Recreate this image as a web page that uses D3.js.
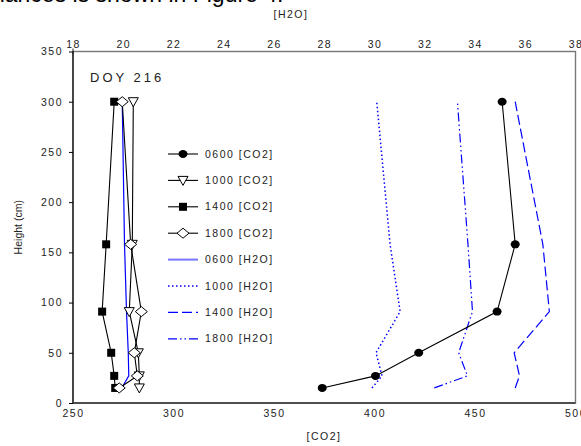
<!DOCTYPE html>
<html>
<head>
<meta charset="utf-8">
<script src="https://d3js.org/d3.v7.min.js"></script>
<style>
  body { margin: 0; background: #fff; }
  svg { display: block; font-family: "Liberation Sans", Arial, sans-serif; }
  .lab { letter-spacing: 1.5px; }
</style>
</head>
<body>
<script>
// heights (cm)
var heights = [15, 27, 50, 91, 158, 300];

// [CO2] profiles (bottom axis)
var co2_0600 = [374, 400.5, 422, 461, 470, 463.5];
var co2_1000 = [283, 283, 282.5, 278, 279.5, 280];
var co2_1400 = [271, 270.5, 269, 264.5, 266.5, 270.5];
var co2_1800 = [273, 282, 280.5, 284, 278.7, 274.5];

// [H2O] profiles (top axis)
var h2o_0600 = [19.94, 20.22, 20.2, 20.13, 20.05, 19.96];
var h2o_1000 = [29.9, 30.3, 30.06, 31.02, 30.62, 30.09];
var h2o_1400 = [35.6, 35.77, 35.56, 36.96, 36.7, 35.6];
var h2o_1800 = [32.38, 33.7, 33.35, 33.9, 33.72, 33.3];

var co2Ticks = [250, 300, 350, 400, 450, 500];
var h2oTicks = [18, 20, 22, 24, 26, 28, 30, 32, 34, 36, 38];
var yTicks = [0, 50, 100, 150, 200, 250, 300, 350];

var W = 581, H = 446;
var svg = d3.select("body").append("svg").attr("width", W).attr("height", H);

var x = d3.scaleLinear().domain([250, 500]).range([73, 575.5]);
var x2 = d3.scaleLinear().domain([18, 38]).range([73, 575.5]);
var y = d3.scaleLinear().domain([0, 350]).range([403, 51.5]);

// cropped document text at top
svg.append("text").attr("x", -8).attr("y", 2).attr("font-size", 23).attr("fill", "#000")
  .text("riances is shown in Figure 4.");

// frame
svg.append("rect").attr("x", x(250)).attr("y", y(350))
  .attr("width", x(500) - x(250)).attr("height", y(0) - y(350))
  .attr("fill", "none").attr("stroke", "#777").attr("stroke-width", 1.4);
svg.append("line").attr("x1", x(250)).attr("x2", x(250)).attr("y1", y(350)).attr("y2", y(0))
  .attr("stroke", "#222").attr("stroke-width", 1.4);
svg.append("line").attr("x1", x(250)).attr("x2", x(500)).attr("y1", y(0)).attr("y2", y(0))
  .attr("stroke", "#333").attr("stroke-width", 1.4);

function styleTicks(g) {
  g.select(".domain").remove();
  g.selectAll("text").attr("font-size", 10.5).attr("fill", "#222").attr("class", "lab")
    .attr("font-family", "Liberation Sans, Arial, sans-serif");
}

// left axis
var gy = svg.append("g").attr("transform", "translate(" + x(250) + ",0)")
  .call(d3.axisLeft(y).tickValues(yTicks).tickSize(4).tickPadding(6));
styleTicks(gy);

// bottom axis
var gx = svg.append("g").attr("transform", "translate(0," + y(0) + ")")
  .call(d3.axisBottom(x).tickValues(co2Ticks).tickSize(0).tickPadding(7));
styleTicks(gx);

// top axis
var gt = svg.append("g").attr("transform", "translate(0," + y(350) + ")")
  .call(d3.axisTop(x2).tickValues(h2oTicks).tickSize(0).tickPadding(4));
styleTicks(gt);
svg.append("line").attr("x1", x2(18)).attr("x2", x2(18)).attr("y1", y(350) - 3).attr("y2", y(350) + 3)
  .attr("stroke", "#222");

// axis titles
svg.append("text").attr("x", 291).attr("y", 18).attr("text-anchor", "middle")
  .attr("font-size", 10.5).attr("class", "lab").attr("fill", "#222").text("[H2O]");
svg.append("text").attr("x", 324).attr("y", 440).attr("text-anchor", "middle")
  .attr("font-size", 10.5).attr("class", "lab").attr("fill", "#222").text("[CO2]");
svg.append("text").attr("transform", "translate(22," + y(175) + ") rotate(-90)")
  .attr("text-anchor", "middle").attr("font-size", 10.5).attr("fill", "#222").text("Height (cm)");
svg.append("text").attr("x", 90).attr("y", 82).attr("font-size", 13)
  .attr("fill", "#222").style("letter-spacing", "3px").text("DOY 216");

// H2O lines
var h2oSeries = [
  { v: h2o_0600, dash: null, w: 1.2 },
  { v: h2o_1000, dash: "1.5,2.5", w: 1.5 },
  { v: h2o_1400, dash: "10,4", w: 1.2 },
  { v: h2o_1800, dash: "9,3,1.5,3,1.5,3", w: 1.2 }
];
h2oSeries.forEach(function (s) {
  var line = d3.line().x(function (d) { return x2(d[0]); }).y(function (d) { return y(d[1]); });
  svg.append("path").datum(d3.zip(s.v, heights)).attr("d", line)
    .attr("fill", "none").attr("stroke", "#0000ff").attr("stroke-width", s.w)
    .attr("stroke-dasharray", s.dash);
});

// CO2 lines with markers
var co2Series = [
  { v: co2_0600, m: "circle" },
  { v: co2_1000, m: "tri" },
  { v: co2_1400, m: "square" },
  { v: co2_1800, m: "diamond" }
];
function marker(g, type, cx, cy) {
  if (type === "circle") {
    g.append("ellipse").attr("cx", cx).attr("cy", cy).attr("rx", 4.5).attr("ry", 4)
      .attr("fill", "#000");
  } else if (type === "square") {
    g.append("rect").attr("x", cx - 4).attr("y", cy - 4).attr("width", 8).attr("height", 8)
      .attr("fill", "#000");
  } else if (type === "tri") {
    g.append("path").attr("d", "M" + (cx - 5) + "," + (cy - 4) + "L" + (cx + 5) + "," + (cy - 4) + "L" + cx + "," + (cy + 5) + "Z")
      .attr("fill", "#fff").attr("stroke", "#000").attr("stroke-width", 1);
  } else {
    g.append("path").attr("d", "M" + (cx - 6) + "," + cy + "L" + cx + "," + (cy - 5) + "L" + (cx + 6) + "," + cy + "L" + cx + "," + (cy + 5) + "Z")
      .attr("fill", "#fff").attr("stroke", "#000").attr("stroke-width", 1);
  }
}
co2Series.forEach(function (s) {
  var pts = d3.zip(s.v, heights);
  var line = d3.line().x(function (d) { return x(d[0]); }).y(function (d) { return y(d[1]); });
  svg.append("path").datum(pts).attr("d", line)
    .attr("fill", "none").attr("stroke", "#000").attr("stroke-width", 1.1);
  var g = svg.append("g");
  pts.forEach(function (d) { marker(g, s.m, x(d[0]), y(d[1])); });
});

// legend
var legNames = ["0600 [CO2]", "1000 [CO2]", "1400 [CO2]", "1800 [CO2]",
                "0600 [H2O]", "1000 [H2O]", "1400 [H2O]", "1800 [H2O]"];
var leg = svg.append("g");
legNames.forEach(function (name, i) {
  var ly = 154 + i * 26.4;
  if (i < 4) {
    leg.append("line").attr("x1", 168).attr("x2", 198).attr("y1", ly).attr("y2", ly)
      .attr("stroke", "#000").attr("stroke-width", 1.1);
    marker(leg, co2Series[i].m, 183, ly);
  } else {
    var s = h2oSeries[i - 4];
    leg.append("line").attr("x1", 168).attr("x2", 198).attr("y1", ly).attr("y2", ly)
      .attr("stroke", i === 4 ? "#7777ff" : "#0000ff").attr("stroke-width", i === 4 ? 2 : s.w)
      .attr("stroke-dasharray", s.dash);
  }
  leg.append("text").attr("x", 205).attr("y", ly + 3.5).attr("font-size", 10.5)
    .attr("class", "lab").attr("fill", "#222").text(name);
});
</script>
</body>
</html>
